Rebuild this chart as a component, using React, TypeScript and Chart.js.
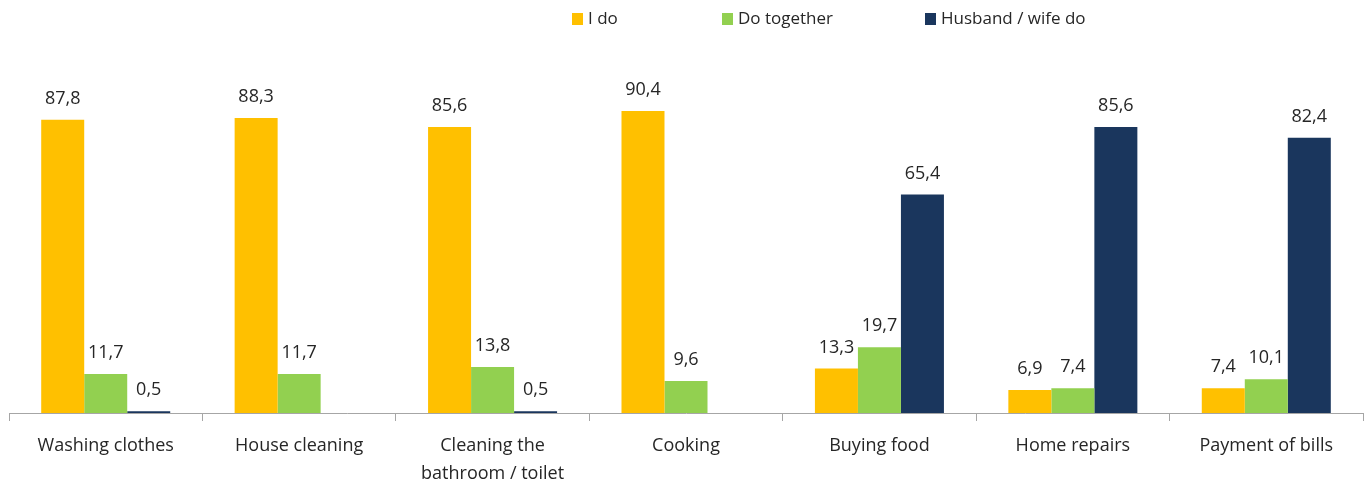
import React, { useEffect, useRef } from "react";
import { Chart, registerables } from "chart.js";

Chart.register(...registerables);

const categories: (string | string[])[] = [
  "Washing clothes",
  "House cleaning",
  ["Cleaning the", "bathroom / toilet"],
  "Cooking",
  "Buying food",
  "Home repairs",
  "Payment of bills",
];
const seriesNames = ["I do", "Do together", "Husband / wife do"];
const iDo = [87.8, 88.3, 85.6, 90.4, 13.3, 6.9, 7.4];
const doTogether = [11.7, 11.7, 13.8, 9.6, 19.7, 7.4, 10.1];
const spouseDo = [0.5, null, 0.5, null, 65.4, 85.6, 82.4];
const colors = ["#FFC000", "#92D050", "#1A365D"];

const FONT = '"Open Sans", "Noto Sans", sans-serif';
const TEXT = "#262626";

const valueLabels = {
  id: "valueLabels",
  afterDatasetsDraw(chart: any) {
    const ctx = chart.ctx;
    ctx.save();
    ctx.font = `18px ${FONT}`;
    ctx.fillStyle = TEXT;
    ctx.textAlign = "center";
    ctx.textBaseline = "middle";
    chart.data.datasets.forEach((ds: any, i: number) => {
      const meta = chart.getDatasetMeta(i);
      meta.data.forEach((bar: any, j: number) => {
        const v = ds.data[j];
        if (v === null || v === undefined) return;
        ctx.fillText(String(v).replace(".", ","), bar.x, bar.y - 21);
      });
    });
    ctx.restore();
  },
};

const topLegend = {
  id: "topLegend",
  afterDraw(chart: any) {
    const ctx = chart.ctx;
    const xs = [572, 722, 925];
    const y = 19;
    ctx.save();
    ctx.font = `17px ${FONT}`;
    ctx.textBaseline = "middle";
    ctx.textAlign = "left";
    chart.data.datasets.forEach((ds: any, i: number) => {
      ctx.fillStyle = ds.backgroundColor;
      ctx.fillRect(xs[i], y - 6, 11, 12);
      ctx.fillStyle = TEXT;
      ctx.fillText(ds.label, xs[i] + 16, y);
    });
    ctx.restore();
  },
};

export default function App() {
  const ref = useRef<HTMLCanvasElement | null>(null);
  useEffect(() => {
    document.body.style.margin = "0";
    if (!ref.current) return;
    const chart = new Chart(ref.current, {
      type: "bar",
      data: {
        labels: categories,
        datasets: [iDo, doTogether, spouseDo].map((d, i) => ({
          label: seriesNames[i],
          data: d,
          backgroundColor: colors[i],
          categoryPercentage: 0.667,
          barPercentage: 1,
        })),
      },
      options: {
        animation: false,
        responsive: false,
        layout: { padding: { left: 9, right: 7, top: 79, bottom: 0 } },
        plugins: { legend: { display: false }, tooltip: { enabled: false } },
        scales: {
          x: {
            afterFit: (s: any) => {
              s.height = 74;
            },
            grid: {
              display: true,
              drawOnChartArea: false,
              drawTicks: true,
              tickLength: 8,
              color: "#A6A6A6",
              offset: true,
            },
            border: { display: true, color: "#A6A6A6", width: 1 },
            ticks: {
              color: TEXT,
              font: { family: FONT, size: 18, lineHeight: 1.55 },
              padding: 11,
              maxRotation: 0,
              autoSkip: false,
            },
          },
          y: { display: false, min: 0, max: 100 },
        },
      },
      plugins: [valueLabels, topLegend],
    });
    return () => chart.destroy();
  }, []);
  return (
    <div style={{ width: 1370, height: 487 }}>
      <canvas ref={ref} width={1370} height={487} />
    </div>
  );
}
